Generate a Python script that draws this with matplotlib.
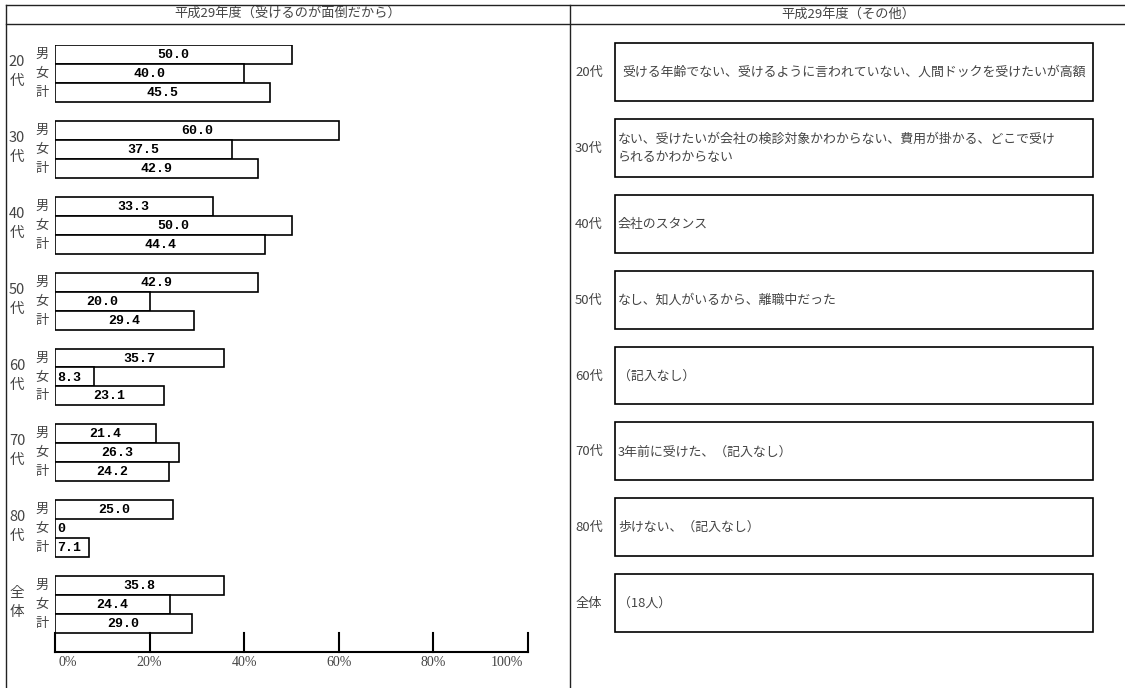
import matplotlib
matplotlib.use("Agg")
import matplotlib.pyplot as plt
from matplotlib.patches import Rectangle
from matplotlib.lines import Line2D

plt.rcParams['font.family'] = ['Noto Sans CJK JP', 'DejaVu Sans']

# ---------------- data ----------------
group_labels = ['20\n代', '30\n代', '40\n代', '50\n代', '60\n代', '70\n代', '80\n代', '全\n体']
sex_labels = ['男', '女', '計']
male = [50.0, 60.0, 33.3, 42.9, 35.7, 21.4, 25.0, 35.8]
female = [40.0, 37.5, 50.0, 20.0, 8.3, 26.3, 0.0, 24.4]
total = [45.5, 42.9, 44.4, 29.4, 23.1, 24.2, 7.1, 29.0]
x_ticks = [0, 20, 40, 60, 80, 100]
x_tick_labels = ['0%', '20%', '40%', '60%', '80%', '100%']

right_labels = ['20代', '30代', '40代', '50代', '60代', '70代', '80代', '全体']
right_texts = [
    '受ける年齢でない、受けるように言われていない、人間ドックを受けたいが高額',
    'ない、受けたいが会社の検診対象かわからない、費用が掛かる、どこで受け\nられるかわからない',
    '会社のスタンス',
    'なし、知人がいるから、離職中だった',
    '（記入なし）',
    '3年前に受けた、（記入なし）',
    '歩けない、（記入なし）',
    '（18人）',
]
title_left = '平成29年度（受けるのが面倒だから）'
title_right = '平成29年度（その他）'

# ---------------- figure ----------------
W, H = 1125, 688
fig = plt.figure(figsize=(W / 100, H / 100), dpi=100)
fig.patch.set_facecolor('white')

def fx(x):
    return x / W

def fy(y):
    return 1 - y / H

frame_color = '#222222'
text_color = '#444444'

# frame lines (figure coords)
for (x0, y0, x1, y1) in [(6, 5, W, 5), (6, 24, W, 24), (6, 5, 6, H), (570, 5, 570, H)]:
    fig.add_artist(Line2D([fx(x0), fx(x1)], [fy(y0), fy(y1)], transform=fig.transFigure,
                          color=frame_color, lw=1.0))
fig.text(fx(288), fy(14.5), title_left, ha='center', va='center', fontsize=9.5, color=text_color)
fig.text(fx(848), fy(14.5), title_right, ha='center', va='center', fontsize=9.5, color=text_color)

# ---------------- bar panel ----------------
top_px, bot_px = 45, 652
ax = fig.add_axes([fx(55), (H - bot_px) / H, (528 - 55) / W, (bot_px - top_px) / H])
ax.set_xlim(0, 100)
ax.set_ylim(31.5, -0.5)
ax.axis('off')

ys, vals = [], []
for i in range(len(group_labels)):
    for j, series in enumerate([male, female, total]):
        ys.append(i * 4 + j)
        vals.append(series[i])
ax.barh(ys, vals, height=1.0, color='white', edgecolor='black', linewidth=1.2)

lab_font = dict(fontsize=9.5, fontweight='bold', family='Liberation Mono', color='black')
for y, v in zip(ys, vals):
    lab = '0' if v == 0 else f'{v:.1f}'
    if v >= 10:
        ax.text(v / 2, y + 0.03, lab, ha='center', va='center', **lab_font)
    else:
        ax.text(0.5, y + 0.03, lab, ha='left', va='center', **lab_font)

for i, g in enumerate(group_labels):
    ax.text(-38 / 473 * 100, i * 4 + 0.9, g, ha='center', va='center', fontsize=10.5,
            color=text_color, linespacing=1.45)
    for j, s in enumerate(sex_labels):
        ax.text(-13 / 473 * 100, i * 4 + j, s, ha='center', va='center', fontsize=9.5,
                color=text_color)

# axis ticks drawn at the bottom
base_y = 31.5
ax.plot([0, 100], [base_y, base_y], color='black', lw=1.5, clip_on=False)
for t in x_ticks:
    ax.plot([t, t], [base_y - 1, base_y], color='black', lw=1.5, clip_on=False)
for t, lab in zip(x_ticks, x_tick_labels):
    ha = 'center'
    xx = t
    if t == 0:
        ha, xx = 'left', 0.8
    elif t == 100:
        ha, xx = 'right', 99
    ax.text(xx, base_y + 0.55, lab, ha=ha, va='center', fontsize=10,
            family='Liberation Serif', color='#444444', clip_on=False)

# ---------------- text panel ----------------
ax2 = fig.add_axes([fx(615), (H - bot_px) / H, (1093 - 615) / W, (bot_px - top_px) / H])
ax2.set_xlim(0, 1)
ax2.set_ylim(31.5, -0.5)
ax2.axis('off')
for i, (lab, txt) in enumerate(zip(right_labels, right_texts)):
    y0 = i * 4 - 0.6
    ax2.add_patch(Rectangle((0, y0), 1, 3.05, facecolor='white', edgecolor='black',
                            linewidth=1.2, clip_on=False))
    ax2.text(-26 / 478, i * 4 + 0.95, lab, ha='center', va='center', fontsize=9.5,
             color=text_color)
    if i == 0:
        ax2.text(0.5, i * 4 + 0.95, txt, ha='center', va='center', fontsize=9.3,
                 color=text_color)
    else:
        ax2.text(0.006, i * 4 + 0.95, txt, ha='left', va='center', fontsize=9.3,
                 color=text_color, linespacing=1.45)

fig.savefig('out.png', dpi=100)
